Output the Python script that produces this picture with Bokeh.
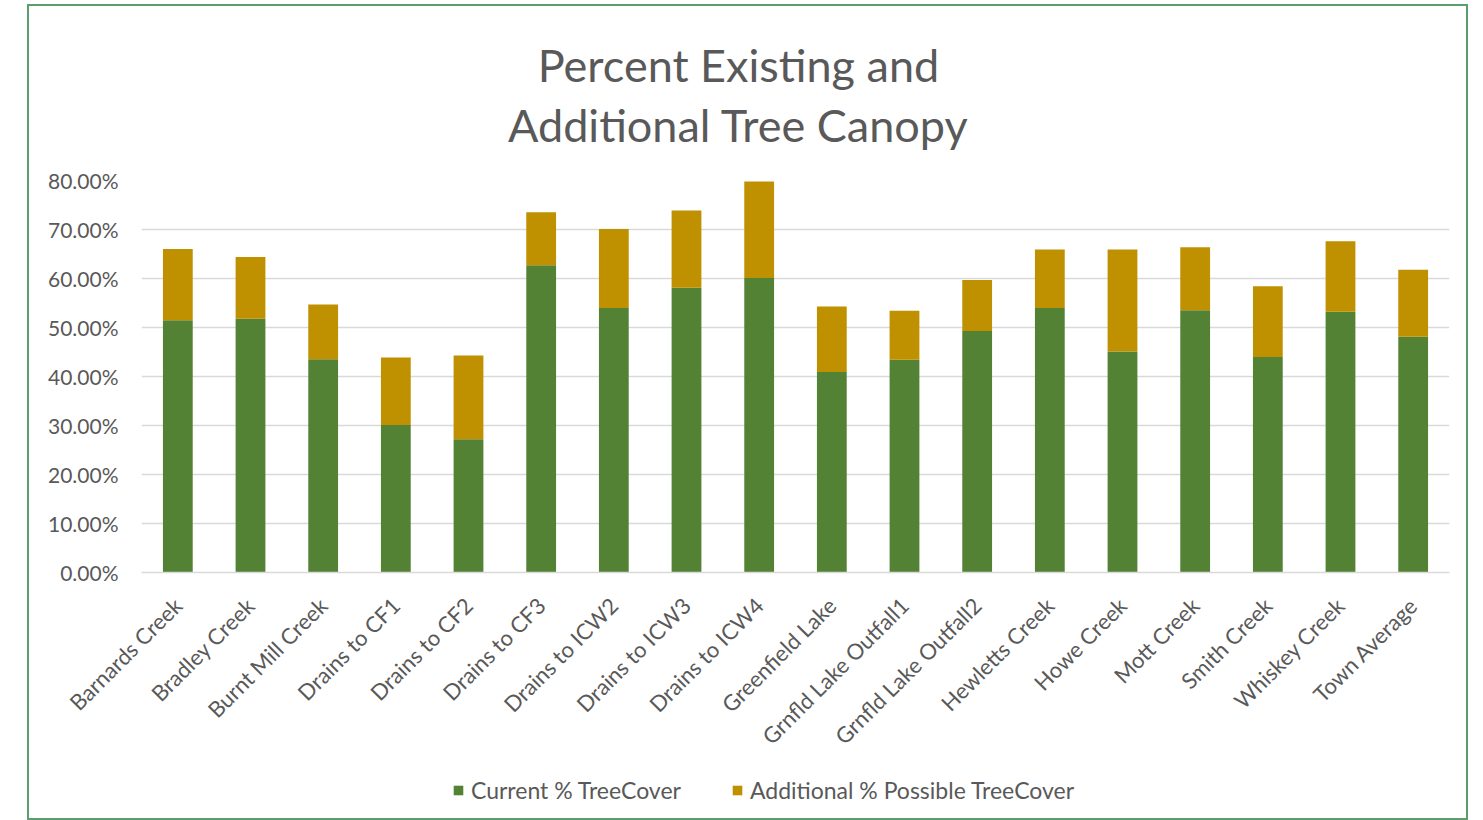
from math import pi
import numpy as np
from bokeh.plotting import figure
from bokeh.layouts import column
from bokeh.core.properties import value
from bokeh.models import (FixedTicker, PrintfTickFormatter, Legend, ColumnDataSource, Range1d)
from bokeh.embed import file_html
from bokeh.resources import INLINE

categories = ["Barnards Creek", "Bradley Creek", "Burnt Mill Creek", "Drains to CF1",
              "Drains to CF2", "Drains to CF3", "Drains to ICW2", "Drains to ICW3",
              "Drains to ICW4", "Greenfield Lake", "Grnfld Lake Outfall1",
              "Grnfld Lake Outfall2", "Hewletts Creek", "Howe Creek", "Mott Creek",
              "Smith Creek", "Whiskey Creek", "Town Average"]
current = [51.5, 51.8, 43.5, 30.1, 27.2, 62.7, 54.0, 58.1, 60.1, 40.9, 43.4, 49.3,
           54.0, 45.1, 53.5, 44.0, 53.2, 48.1]
total = [66.0, 64.4, 54.7, 43.9, 44.3, 73.5, 70.1, 73.9, 79.8, 54.3, 53.4, 59.7,
         65.9, 65.9, 66.4, 58.4, 67.6, 61.8]
additional = [round(t - c, 1) for t, c in zip(total, current)]
y_ticks = [0, 10, 20, 30, 40, 50, 60, 70, 80]
series = ["current", "additional"]
series_labels = ["Current % TreeCover", "Additional % Possible TreeCover"]
colors = ["#548235", "#BF9000"]
title_lines = ["Percent Existing and", "Additional Tree Canopy"]

FONT = "Lato"
GREY = "#595959"
WIDTH = 1437


def blank_strip(height):
    f = figure(width=WIDTH, height=height, output_backend="svg", toolbar_location=None,
               min_border=0, x_axis_type=None, y_axis_type=None,
               x_range=Range1d(0, 1), y_range=Range1d(0, 1))
    f.xgrid.grid_line_color = None
    f.ygrid.grid_line_color = None
    f.outline_line_color = None
    return f


# title strip (its frame is aligned with the chart frame by the column layout)
tf = blank_strip(150)
tf.text(x=[0.4564, 0.4564], y=[0.613, 0.213], text=title_lines, text_align="center",
        text_baseline="middle", text_font=value(FONT), text_font_size="45px",
        text_color=GREY)

# main chart
src = ColumnDataSource(dict(cat=categories, current=current, additional=additional))
p = figure(x_range=categories, y_range=(0, 80), frame_width=1308, frame_height=392,
           output_backend="svg", toolbar_location=None,
           min_border_left=112, min_border_right=17, min_border_top=24,
           min_border_bottom=170)

renderers = p.vbar_stack(series, x="cat", width=0.41, color=colors, source=src,
                         line_color=None)

p.yaxis.ticker = FixedTicker(ticks=y_ticks)
p.yaxis.formatter = PrintfTickFormatter(format="%.2f%%")
p.yaxis.axis_line_color = None
p.yaxis.major_tick_line_color = None
p.yaxis.minor_tick_line_color = None
p.yaxis.major_label_text_font = FONT
p.yaxis.major_label_text_font_size = "21px"
p.yaxis.major_label_text_color = GREY
p.yaxis.major_label_standoff = 17

p.xaxis.axis_line_color = "#D9D9D9"
p.xaxis.axis_line_width = 1.5
p.xaxis.major_tick_line_color = None
p.xaxis.minor_tick_line_color = None
p.xaxis.major_label_orientation = pi / 4
p.xaxis.major_label_text_font = FONT
p.xaxis.major_label_text_font_size = "22px"
p.xaxis.major_label_text_color = GREY
p.xaxis.major_label_standoff = 23

p.xgrid.grid_line_color = None
p.ygrid.grid_line_color = "#D9D9D9"
p.ygrid.grid_line_width = 1.5
p.outline_line_color = None

# legend strip (proxy glyphs with NaN positions: nothing drawn except legend swatches)
lg = blank_strip(56)
nan = np.array([np.nan])
legend_renderers = [lg.quad(left=nan, right=nan, top=nan, bottom=nan, fill_color=c,
                            line_color=None) for c in colors]
legend = Legend(items=[(lbl, [r]) for lbl, r in zip(series_labels, legend_renderers)],
                orientation="horizontal", location=(311, 14),
                label_text_font=FONT, label_text_font_size="23px", label_text_color=GREY,
                glyph_width=12, glyph_height=12, label_standoff=7, spacing=50,
                border_line_color=None, background_fill_alpha=0, padding=0, margin=0)
lg.add_layout(legend, "center")

layout = column(tf, p, lg, spacing=0,
                styles={"border": "2px solid #5C9E6B", "margin-left": "27px",
                        "margin-top": "4px"})

open("out.html", "w").write(file_html(layout, INLINE))
